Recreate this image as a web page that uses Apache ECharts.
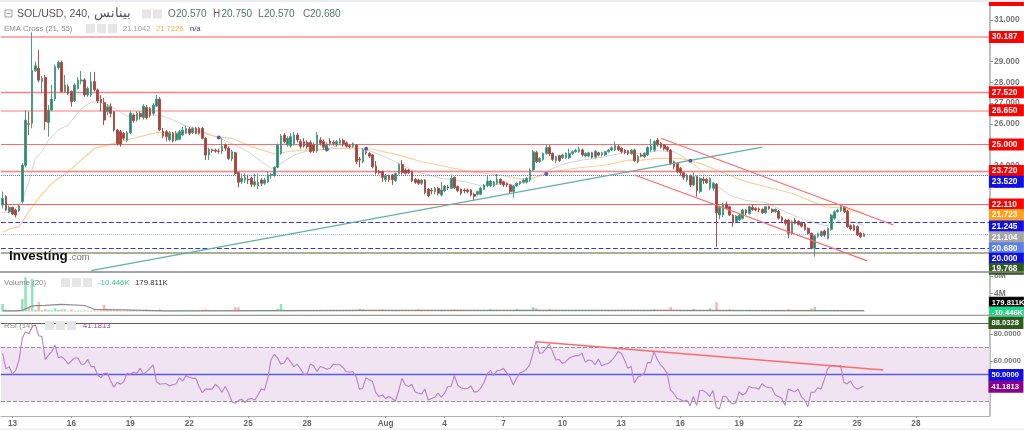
<!DOCTYPE html>
<html><head><meta charset="utf-8">
<style>html,body{margin:0;padding:0;background:#fff;overflow:hidden}#c{width:1024px;height:430px}</style>
<script src="https://cdn.jsdelivr.net/npm/echarts@6/dist/echarts.min.js"></script>
</head><body><div id="c"></div>
<script>
const slotCount = 302;
const dayTicks = [[3,'13'],[21,'16'],[39,'19'],[57,'22'],[75,'25'],[93,'28'],[117,'Aug'],[135,'4'],[153,'7'],[171,'10'],[189,'13'],[207,'16'],[225,'19'],[243,'22'],[261,'25'],[279,'28']];
// open, close, low, high
const candles = [
[22.08,22.41,21.92,22.73],[22.49,21.84,21.8,22.55],[21.76,21.97,21.7,22.05],[21.97,21.65,21.6,22.0],[21.84,21.6,21.49,21.9],[21.8,22.04,21.75,22.1],[22.25,24.01,22.15,24.1],[24.0,26.18,23.9,26.66],[26.0,25.98,25.46,26.58],[26.02,28.56,25.78,30.4],
[28.56,28.8,28.5,29.0],[28.67,28.1,28.0,29.55],[28.03,28.19,27.47,28.3],[28.24,26.1,25.7,28.35],[26.05,26.66,25.38,26.9],[26.66,27.19,26.6,27.87],[27.19,28.75,27.1,28.85],[28.7,28.96,28.6,29.05],[28.96,27.55,27.5,29.05],[27.55,27.87,27.5,28.35],
[27.79,27.47,27.4,27.9],[27.55,27.06,26.82,27.6],[27.1,27.87,27.05,27.95],[27.7,28.11,27.65,28.25],[28.06,28.11,27.9,28.54],[28.11,27.39,27.3,28.2],[27.39,27.7,27.3,27.8],[27.39,28.03,27.3,28.5],[28.03,27.63,27.55,28.5],[27.63,27.1,27.0,27.7],
[27.19,27.02,26.6,27.38],[27.02,26.18,25.94,27.25],[26.58,26.82,26.4,26.95],[26.82,26.5,26.3,26.98],[26.58,25.7,25.62,26.6],[25.7,25.03,24.95,25.75],[25.62,25.02,24.9,25.7],[25.54,25.3,25.2,25.6],[25.2,25.57,25.1,25.65],[25.57,26.5,25.5,26.6],
[26.42,26.15,26.05,26.5],[26.18,26.5,26.1,26.6],[26.5,26.34,26.2,26.6],[26.3,26.85,26.2,26.95],[26.79,26.3,26.2,26.9],[26.74,26.42,26.3,26.8],[26.5,26.9,26.4,27.0],[26.85,27.19,26.8,27.38],[27.19,25.7,25.65,27.28],[25.65,25.41,25.3,25.8],
[25.62,25.38,25.15,25.7],[25.22,25.55,25.15,25.65],[25.54,25.18,25.1,25.6],[25.22,25.54,25.15,25.65],[25.25,25.62,25.2,25.7],[25.46,25.7,25.4,25.85],[25.54,25.78,25.5,25.9],[25.75,25.54,25.45,25.85],[25.57,25.78,25.5,25.85],[25.78,25.54,25.5,25.85],
[25.78,25.54,25.48,25.85],[25.78,25.3,25.25,25.85],[25.3,24.49,24.25,25.35],[24.49,24.77,24.25,24.85],[24.74,24.71,24.6,24.8],[24.73,24.68,24.6,24.8],[24.69,24.67,24.55,24.8],[24.69,24.9,24.55,25.3],[24.98,24.82,24.7,25.05],[24.82,24.33,24.25,24.9],
[24.3,24.65,24.2,24.75],[24.6,23.6,23.55,24.65],[23.64,23.18,22.94,23.7],[23.21,23.37,23.1,23.6],[23.29,23.42,23.15,23.62],[23.32,23.3,23.1,23.55],[23.37,23.08,22.95,23.45],[23.05,23.21,22.95,23.6],[23.0,23.17,22.85,23.6],[23.29,23.13,23.0,23.38],
[23.13,23.29,23.05,23.4],[23.21,23.53,23.15,23.72],[23.5,23.55,23.35,23.65],[23.53,23.9,23.45,23.95],[23.9,24.97,23.85,25.05],[24.57,25.41,24.5,25.5],[25.46,25.14,25.05,25.55],[24.98,25.3,24.9,25.4],[24.93,25.38,24.85,25.55],[25.05,25.46,24.95,25.6],
[25.46,25.22,25.1,25.55],[25.14,24.9,24.8,25.25],[25.14,24.93,24.85,25.3],[25.09,24.9,24.8,25.2],[25.09,24.65,24.6,25.2],[24.98,24.69,24.6,25.1],[24.69,25.46,24.6,25.6],[25.22,25.06,24.95,25.35],[25.14,24.87,24.75,25.25],[24.77,25.02,24.65,25.1],
[25.17,25.06,24.95,25.3],[25.1,25.05,24.95,25.2],[24.98,25.14,24.9,25.22],[25.06,25.2,24.98,25.3],[25.2,25.02,24.9,25.28],[25.08,24.92,24.85,25.15],[24.95,24.9,24.82,25.0],[24.92,25.05,24.85,25.1],[24.98,24.17,24.05,25.0],[24.3,24.25,23.9,24.4],
[24.17,24.74,24.1,24.82],[24.65,24.6,24.5,24.72],[24.57,24.44,24.35,24.63],[24.5,23.93,23.85,24.55],[23.96,23.64,23.55,24.2],[23.69,23.64,23.55,23.78],[23.69,23.42,23.2,23.75],[23.3,23.5,23.2,23.58],[23.5,23.3,23.2,23.55],[23.53,23.3,23.05,23.58],
[23.26,23.6,23.2,23.65],[23.6,24.04,23.55,24.1],[24.04,23.64,23.55,24.25],[23.77,23.61,23.55,23.85],[23.77,23.64,23.58,23.82],[23.69,23.24,23.18,23.75],[23.32,23.18,23.1,23.38],[23.29,23.13,23.05,23.35],[23.13,23.29,23.05,23.32],[23.29,22.68,22.6,23.33],
[22.84,22.52,22.45,22.9],[22.8,22.76,22.6,22.9],[22.73,22.89,22.6,22.95],[22.89,22.65,22.55,22.95],[22.57,22.81,22.5,23.2],[22.76,23.0,22.7,23.05],[22.95,22.9,22.8,23.05],[22.89,23.37,22.85,23.55],[23.42,22.92,22.85,23.45],[22.97,22.78,22.7,23.02],
[22.84,22.65,22.55,22.88],[22.81,22.76,22.65,22.88],[22.81,22.73,22.65,22.88],[22.81,22.57,22.5,22.85],[22.6,22.5,22.33,22.68],[22.6,22.73,22.55,22.78],[22.6,22.89,22.55,22.95],[22.84,23.05,22.8,23.1],[23.02,23.24,22.95,23.5],[23.02,23.24,22.95,23.3],
[23.02,23.2,22.95,23.25],[23.13,23.32,23.05,23.58],[23.32,23.13,23.05,23.37],[23.2,23.05,22.95,23.25],[23.13,23.05,22.95,23.18],[23.05,22.73,22.65,23.1],[22.73,23.0,22.44,23.05],[23.0,23.13,22.95,23.18],[23.1,23.21,23.05,23.25],[23.18,23.29,23.12,23.35],
[23.18,23.37,23.12,23.42],[23.29,23.77,23.2,23.85],[23.77,24.65,23.7,24.73],[24.62,24.17,24.1,24.7],[24.17,24.33,24.1,24.4],[24.28,24.57,24.22,24.62],[24.57,24.85,24.5,24.97],[24.86,24.54,24.45,24.97],[24.57,24.28,24.2,24.62],[24.22,24.41,24.1,24.46],
[24.46,24.22,24.15,24.5],[24.36,24.5,24.3,24.56],[24.36,24.57,24.3,24.62],[24.36,24.57,24.3,24.8],[24.57,24.65,24.5,24.72],[24.65,24.73,24.6,24.8],[24.65,24.77,24.6,24.9],[24.74,24.5,24.42,24.8],[24.44,24.57,24.38,24.62],[24.44,24.6,24.38,24.65],
[24.6,24.39,24.32,24.65],[24.39,24.68,24.33,24.73],[24.6,24.49,24.42,24.65],[24.49,24.6,24.43,24.65],[24.5,24.65,24.45,24.7],[24.65,24.73,24.6,24.78],[24.73,24.85,24.68,24.9],[24.73,24.95,24.68,25.15],[24.9,24.74,24.68,25.0],[24.82,24.65,24.58,24.87],
[24.73,24.6,24.53,24.78],[24.7,24.57,24.5,24.75],[24.57,24.73,24.5,24.78],[24.73,24.22,24.15,24.8],[24.17,24.44,24.09,24.5],[24.5,24.44,24.38,24.6],[24.41,24.57,24.35,24.62],[24.5,24.86,24.45,24.92],[24.73,24.92,24.65,25.27],[24.73,25.14,24.65,25.2],
[25.22,24.98,24.9,25.3],[25.06,24.87,24.8,25.12],[24.98,24.79,24.72,25.03],[24.87,24.73,24.65,24.92],[24.73,24.09,24.0,24.78],[24.17,23.93,23.8,24.22],[24.09,23.69,23.6,24.14],[23.85,23.64,23.5,23.92],[23.64,23.42,23.3,23.7],[23.29,23.53,23.2,23.6],
[23.48,23.05,22.95,23.55],[23.05,23.45,23.0,23.65],[23.45,22.78,22.49,23.5],[22.73,23.37,22.65,23.42],[23.34,23.26,23.1,23.45],[23.32,23.16,23.1,23.38],[22.89,23.37,22.8,23.42],[22.89,23.13,22.75,23.2],[23.09,21.7,20.07,23.15],[21.6,21.97,21.4,22.05],
[21.6,22.13,21.5,22.2],[22.13,21.92,21.85,22.25],[22.0,21.6,21.55,22.05],[21.6,21.23,21.04,21.65],[21.28,21.55,21.2,21.6],[21.36,21.6,21.3,21.65],[21.44,21.84,21.38,21.9],[21.84,21.7,21.6,21.9],[21.68,22.0,21.62,22.05],[21.97,21.87,21.8,22.13],
[21.92,21.84,21.78,21.97],[21.9,21.84,21.75,21.97],[21.87,21.71,21.65,21.92],[21.71,22.0,21.65,22.05],[22.0,21.92,21.85,22.05],[21.87,21.76,21.7,21.92],[21.76,21.87,21.7,21.92],[21.78,21.44,21.38,21.84],[21.49,21.33,21.25,21.55],[21.36,21.2,21.1,21.42],
[21.36,20.72,20.48,21.42],[20.72,21.28,20.65,21.35],[21.36,21.2,21.15,21.45],[21.3,21.14,21.1,21.35],[21.22,21.06,21.0,21.28],[21.17,20.9,20.85,21.22],[20.96,20.72,20.65,21.0],[20.72,20.0,19.95,20.76],[20.0,20.6,19.6,20.65],[20.58,20.7,20.5,20.75],
[20.6,20.8,20.55,20.85],[20.83,20.63,20.55,20.9],[20.48,20.96,20.42,21.0],[20.91,21.6,20.85,21.65],[21.44,21.76,21.38,21.82],[21.76,21.84,21.7,21.9],[21.81,22.0,21.75,22.1],[21.97,21.76,21.7,22.02],[21.79,21.04,20.98,21.85],[21.09,20.93,20.85,21.15],
[21.09,20.88,20.82,21.15],[21.04,20.64,20.58,21.1],[20.72,20.55,20.48,20.78],[20.57,20.68,20.57,20.75]
];
const ema21 = [[0,21.73],[3,21.73],[6,22.3],[8,23.2],[10,24.33],[12,24.65],[14,25.2],[17,25.7],[20,25.94],[24,26.74],[27,27.03],[29,27.06],[33,26.85],[38,26.37],[43,26.42],[48,26.42],[52,26.18],[56,25.9],[60,25.7],[65,25.38],[70,25.05],[75,24.65],[79,24.17],[82,23.85],[85,24.09],[89,24.5],[94,24.73],[99,24.77],[103,24.98],[109,24.8],[113,24.65],[117,24.38],[121,24.09],[125,23.77],[129,23.58],[134,23.37],[138,23.29],[142,23.18],[146,23.0],[151,23.08],[156,23.05],[161,23.29],[164,23.53],[168,23.85],[172,24.09],[177,24.25],[184,24.41],[190,24.62],[195,24.57],[200,24.7],[205,24.65],[207,24.49],[212,23.93],[217,23.13],[222,22.57],[227,22.3],[233,22.2],[239,21.76],[245,21.36],[251,21.09],[253,21.12],[255,21.3],[257,21.44],[260,21.25],[263,21.104]];
const ema55 = [[0,20.77],[2,20.93],[5,21.04],[8,21.76],[11,22.41],[15,23.13],[20,23.69],[24,24.25],[28,24.81],[33,25.02],[40,25.3],[47,25.57],[52,25.57],[60,25.62],[65,25.38],[70,25.3],[76,24.9],[83,24.54],[87,24.65],[91,24.73],[96,24.73],[103,24.82],[113,24.77],[121,24.49],[128,24.17],[137,23.88],[144,23.66],[152,23.53],[158,23.34],[163,23.42],[168,23.69],[176,23.88],[184,24.0],[191,24.25],[195,24.25],[200,24.33],[207,24.33],[213,24.09],[220,23.64],[227,23.21],[235,22.89],[241,22.65],[248,22.2],[251,22.0],[255,21.96],[259,21.84],[263,21.723]];
const crossDots = [[66,25.34],[99,24.77],[111,24.8],[166,23.58],[210,24.22]];
const trendTeal = [[27,18.92],[232,24.87]];
const channelUpper = [[201,25.3],[272,21.12]];
const channelLower = [[193,23.53],[264,19.39]];
const priceLevels = [
 [30.187,'#ff8f8f','solid',1.6],[27.52,'#ff8080','solid',1.4],[26.65,'#ffa3a3','solid',1.5],[25,'#ff6b6b','solid',1.2],[23.72,'#ff8080','solid',1.3],
 [23.52,'#6a6af5','dotted',1],[22.11,'#ff5c5c','solid',1.2],[21.245,'#3333f0','dashed',1.2],[20.68,'#a8b4f5','dotted',1],[20,'#3333f0','dashed',1.2],[19.768,'#a7b296','solid',1.8]
];
const priceTicks = [19,20,21,22,23,24,25,26,27,28,29,30,31];
const priceTags = [
 ['32.000',31.96,'#ff0000'],['30.187',30.187,'#ff0000'],['27.520',27.52,'#ff0000'],['26.650',26.65,'#ff0000'],['25.000',25,'#ff0000'],['23.720',23.72,'#ff0000'],['23.520',23.2,'#0f0fe8'],['22.110',22.11,'#ff0000'],
 ['21.723',21.6,'#ff9f1c'],['21.245',21.05,'#0f0fe8'],['21.104',20.53,'#a6a6a6'],['20.680',20,'#5b80ea'],['20.000',19.49,'#0f0fe8'],['19.768',19.01,'#2e5a1e']
];
const volumes = [1.7,.5,.3,.3,.3,.25,2.8,7.7,1.1,7.3,.4,2.1,.3,.5,.4,.3,.7,.4,.5,.5,.2,.5,.2,.2,.2,.3,.2,.2,.3,.2,.3,1.5,.4,.6,.6,.5,.2,.2,.2,.2,
.3,.2,.2,.3,.4,.2,.2,.2,.5,.2,.2,.2,.2,.2,.2,.2,.2,.2,.2,.2,.2,.3,.5,.2,.2,.2,.1,.2,.2,.3,.2,1.0,.9,.2,.2,.2,.3,.2,.2,.2,
.2,.2,.2,.3,.6,1.7,.4,.2,.2,.2,.2,.2,.2,.2,.2,.2,.2,.2,.2,.2,.2,.2,.2,.2,.2,.2,.2,.2,.4,.6,.5,.2,.2,.2,.2,.2,.5,.2,.2,.2,
.2,.2,.2,.2,.2,.2,.2,.5,.2,.2,.2,.2,.2,.2,.2,.2,.2,.2,.5,.2,.2,.2,.2,.2,.2,.2,.2,.2,.3,.5,.2,.2,.2,.2,.2,.2,.2,.6,.2,.2,
.2,.3,1.0,.7,.2,.2,.3,.6,.2,.2,.2,.2,.2,.2,.2,.2,.2,.2,.2,.2,.2,.2,.2,.2,.2,.2,.2,.2,.2,.2,.2,.2,.2,.3,.2,.2,.2,.2,.2,.5,
.2,.2,.2,.2,1.0,.3,.3,.2,.2,.2,.2,.6,.3,.2,.2,.2,.7,.2,2.1,.3,.2,.2,.5,.3,.2,.2,.2,.2,.2,.2,.2,.2,.2,.2,.2,.2,.2,.2,.2,.2,
.5,.2,.2,.2,.2,.2,.2,.7,1.0,.2,.2,.2,.2,.3,.2,.2,.2,.2,.3,.2,.2,.2,.2,.18];
const volumeAvg = [[0,.15],[4,.15],[6,.25],[9,1.25],[13,1.4],[18,1.6],[25,1.35],[28,.5],[33,.4],[50,.15],[110,.25],[200,.25],[263,.18]];
const volTicks = [4,8];
const volTags = [['179.811K',1.95,'#000000'],['-10.446K',-0.25,'#1fd88a']];
const rsi = [65.5,54,55.7,50,53,60.6,76.6,81.6,80,85.3,86.5,78.6,78,61,64,66.8,71.5,62.3,63,61,
57.6,60,62,62,57.4,57.6,61,55.7,55.7,49.5,47.5,50.7,50.7,45,40.4,44,42.6,44.6,50.7,50,
51.5,50.7,54.4,50,52,54.4,57,44.6,42.6,43,43,41.4,42.3,43,47.5,45,49,47.8,47,47,
41,36.4,39,39,39,42.6,40.4,36.7,41,36.4,29.8,28.5,30.5,31.5,29,31.5,32,31,34.7,39,
38.4,47,61,64.8,62,57.4,58.6,62.6,59,55.7,57.4,54,50,50,57.6,56.4,52,55.7,55,53.7,54.4,57.4,57,
57,55,52,51.5,52,48,39,39.6,47.5,46,44.6,36.4,33.5,34.7,32,33.5,32,30,38,47,
42,41,42.6,37,36,35.5,39,31,32,33,36,33,36,41,41,49,42,40,39.4,39.4,
41.4,37,37,39.6,43.5,50,53,49,52.5,53,54.4,51,48,42,47,51,52,53.7,57,65.6,
74.7,65.6,66,69,72.5,66.8,60.6,61,58,59.3,61.8,63,63.8,63.8,65.6,59,60.6,60,57,61.3,
56.4,57.4,58,60,63,66.8,65.6,60.6,54.4,55.7,43.5,47.8,49,50.7,58.6,58.6,66.8,61,57,54.4,
50.7,38.4,36,32,31.5,29.8,31,26.5,33.5,27,38,38,36.4,33.5,38,25.6,24.3,33.5,33.5,30,
28,29,37,34.7,36,41,40,40,39,43,41,40,40,34.7,33.5,32,27,39,38,37,
39,33.5,31,26,36.7,36.7,40,39,45.8,54,56.4,56.4,56,56.4,44,43,45,41,39,40,41.18];
const rsiTrend = [[163,74.1],[269,53.2]];
const rsiTicks = [60,80];
const rsiTags = [['88.0328',88.03,'#2e5a1e'],['50.0000',49.5,'#0f0fe8'],['41.1813',40.7,'#8b008b']];

const PRICE_MIN=18.855, PRICE_MAX=31.82, VOL_MIN=-0.79, VOL_MAX=8.9, RSI_MIN=19.1, RSI_MAX=93.9;
const cats = Array(slotCount).fill('');
dayTicks.forEach(([i,t])=>cats[i]=t);
const FONT='Arial, "Liberation Sans", sans-serif';
const lastIdx = slotCount-1;

function tagSeries(tags,ax){return {type:'scatter',xAxisIndex:ax,yAxisIndex:ax,symbolSize:0,clip:false,silent:true,z:20,itemStyle:{opacity:1},
 data:tags.map(([t,v,c])=>({value:[lastIdx,v],label:{show:true,position:'right',distance:0.5,formatter:t,backgroundColor:c,color:'#fff',opacity:1,width:32,height:12,lineHeight:12,padding:[0,0,0,3],align:'left',verticalAlign:'middle',fontSize:t.length>6?7.6:8.4,fontWeight:'bold',fontFamily:FONT}}))};}
function lineS(ax,data,color,w,z){return {type:'line',xAxisIndex:ax,yAxisIndex:ax,data,symbol:'none',silent:true,z:z||5,lineStyle:{color,width:w}};}

const yCommon={type:'value',position:'right',splitLine:{show:false},axisLine:{show:true,lineStyle:{color:'#aaaaaa',width:1.5}}};
const axisFont={color:'#777',fontSize:8.4,margin:4,fontWeight:'bold',fontFamily:FONT};
const option={
 animation:false,backgroundColor:'#ffffff',
 grid:[{left:1,right:34,top:3,height:269},{left:1,right:34,top:272,height:43},{left:1,right:34,top:315,height:101}],
 xAxis:[
  {gridIndex:0,type:'category',data:cats,axisLine:{show:false},axisTick:{show:false},axisLabel:{show:false},splitLine:{show:false}},
  {gridIndex:1,type:'category',data:cats,axisLine:{show:false},axisTick:{show:false},axisLabel:{show:false},splitLine:{show:false}},
  {gridIndex:2,type:'category',data:cats,axisLine:{show:true,lineStyle:{color:'#b0b0b0'}},
   axisTick:{show:true,alignWithLabel:true,length:2,interval:(i,v)=>v!=='',lineStyle:{color:'#999'}},
   axisLabel:{interval:(i,v)=>v!=='',color:'#666',fontSize:8.2,fontWeight:'bold',margin:4,fontFamily:FONT},splitLine:{show:false}}
 ],
 yAxis:[
  {...yCommon,gridIndex:0,min:PRICE_MIN,max:PRICE_MAX,axisTick:{show:true,length:3,customValues:priceTicks,lineStyle:{color:'#999'}},axisLabel:{...axisFont,customValues:priceTicks,formatter:v=>v.toFixed(3)}},
  {...yCommon,gridIndex:1,min:VOL_MIN,max:VOL_MAX,axisTick:{show:true,length:3,customValues:volTicks,lineStyle:{color:'#999'}},axisLabel:{...axisFont,customValues:volTicks,formatter:v=>v+'M'}},
  {...yCommon,gridIndex:2,min:RSI_MIN,max:RSI_MAX,axisTick:{show:true,length:3,customValues:rsiTicks,lineStyle:{color:'#999'}},axisLabel:{...axisFont,fontSize:7.6,customValues:rsiTicks,formatter:v=>v.toFixed(4)}}
 ],
 series:[
  lineS(0,ema21,'#d4d4d4',1,3),
  lineS(0,ema55,'#fbd09a',1.2,3),
  {type:'candlestick',xAxisIndex:0,yAxisIndex:0,data:candles,barWidth:2.2,silent:true,z:6,
   itemStyle:{color:'#1f8a70',color0:'#a8423c',borderColor:'#4f9a85',borderColor0:'#a8524c',borderWidth:1},
   markLine:{silent:true,symbol:'none',animation:false,label:{show:false},
    data:priceLevels.map(([v,c,t,w])=>({yAxis:v,lineStyle:{color:c,type:t,width:w}}))}},
  lineS(0,trendTeal,'#5fb3a0',1.2,7),
  lineS(0,channelUpper,'#ff6b6b',1.2,7),
  lineS(0,channelLower,'#ff6b6b',1.2,7),
  {type:'scatter',xAxisIndex:0,yAxisIndex:0,data:crossDots,symbolSize:4,silent:true,z:8,itemStyle:{color:'#5a5aa8',opacity:1}},
  tagSeries(priceTags,0),
  {type:'bar',xAxisIndex:1,yAxisIndex:1,barWidth:2.6,silent:true,z:4,
   data:volumes.map((v,i)=>({value:v,itemStyle:{color:candles[i][1]>=candles[i][0]?'#8fe3bf':'#ffb5b0'}}))},
  lineS(1,volumeAvg,'#8a8a8a',1.2,6),
  tagSeries(volTags,1),
  {type:'line',xAxisIndex:2,yAxisIndex:2,data:rsi,symbol:'none',silent:true,z:6,lineStyle:{color:'#b97fc9',width:1.1},
   markArea:{silent:true,itemStyle:{color:'#f1e4f2'},data:[[{yAxis:70},{yAxis:30}]]},
   markLine:{silent:true,symbol:'none',label:{show:false},data:[
    {yAxis:70,lineStyle:{color:'#9a8a9a',type:'dashed',width:1}},{yAxis:30,lineStyle:{color:'#9a8a9a',type:'dashed',width:1}},
    {yAxis:50,lineStyle:{color:'#5a5af0',type:'solid',width:1.3}},{yAxis:88.03,lineStyle:{color:'#4e6e3c',type:'solid',width:1.1}}]}},
  lineS(2,rsiTrend,'#ff6b6b',1.4,7),
  tagSeries(rsiTags,2)
 ],
 graphic:[]
};
function txt(x,y,t,fill,size,weight){return {type:'text',x,y,silent:true,z:50,style:{text:t,fill,font:`${weight||'normal'} ${size}px ${FONT}`,textVerticalAlign:'middle'}};}
function icon(x,y,w){return {type:'rect',silent:true,z:49,shape:{x,y,width:w||9,height:9},style:{fill:'#e6e6e6'}};}
function hline(y,c,w){return {type:'line',silent:true,z:40,shape:{x1:0,y1:y,x2:1024,y2:y},style:{stroke:c,lineWidth:w}};}
const GREEN='#4a7a62';
option.graphic=[
 {type:'rect',silent:true,z:41,shape:{x:0,y:0,width:1024,height:2},style:{fill:'#eaecf3'}},
 {type:'rect',silent:true,z:41,shape:{x:0,y:428.5,width:1024,height:2},style:{fill:'#eeeeee'}},
 hline(272,'#888888',1.4),hline(315.3,'#999999',1.2),
 {type:'rect',silent:true,z:49,shape:{x:5,y:10,width:7,height:7},style:{fill:'#fff',stroke:'#888',lineWidth:.8}},
 {type:'line',silent:true,z:50,shape:{x1:6.5,y1:13.5,x2:10.5,y2:13.5},style:{stroke:'#888',lineWidth:.8}},
 txt(17,14.5,'SOL/USD, 240,','#555555',10.6),
 txt(94,14,'بينانس','#555555',12.5),
 icon(142,9.5),icon(153,9.5),
 txt(168,14.5,'O','#666666',10),txt(176,14.5,'20.570',GREEN,10),
 txt(213,14.5,'H','#666666',10),txt(221.5,14.5,'20.750',GREEN,10),
 txt(258,14.5,'L','#666666',10),txt(264,14.5,'20.570',GREEN,10),
 txt(303,14.5,'C','#666666',10),txt(310,14.5,'20.680',GREEN,10),
 txt(4,28.5,'EMA Cross (21, 55)','#888888',7.8),
 icon(86,24),icon(97,24),icon(108,24),
 txt(123,28.5,'21.1042','#a0a0a0',7.6),txt(156,28.5,'21.7226','#f5b04a',7.6),txt(190,28.5,'n/a','#33339a',7.6),
 txt(4,283,'Volume (20)','#888888',7.8),
 icon(61,278),icon(72,278),icon(83,278),
 txt(98,283,'-10.446K','#2ecc85',7.8),txt(135,283,'179.811K','#333333',7.8),
 txt(4,326,'RSI (14)','#888888',7.8),
 icon(45,321),icon(56,321),icon(67,321),
 txt(83,326,'41.1813','#a63ba6',7.6),
 txt(9,256,'Investing','#111111',13.4,'bold'),
 txt(69,257.5,'.com','#777777',9.5),
 {type:'circle',silent:true,z:51,shape:{cx:50.7,cy:250,r:1.1},style:{fill:'#f39c1f'}}
];
const chart=echarts.init(document.getElementById('c'),null,{renderer:'canvas'});
chart.setOption(option);
</script></body></html>
